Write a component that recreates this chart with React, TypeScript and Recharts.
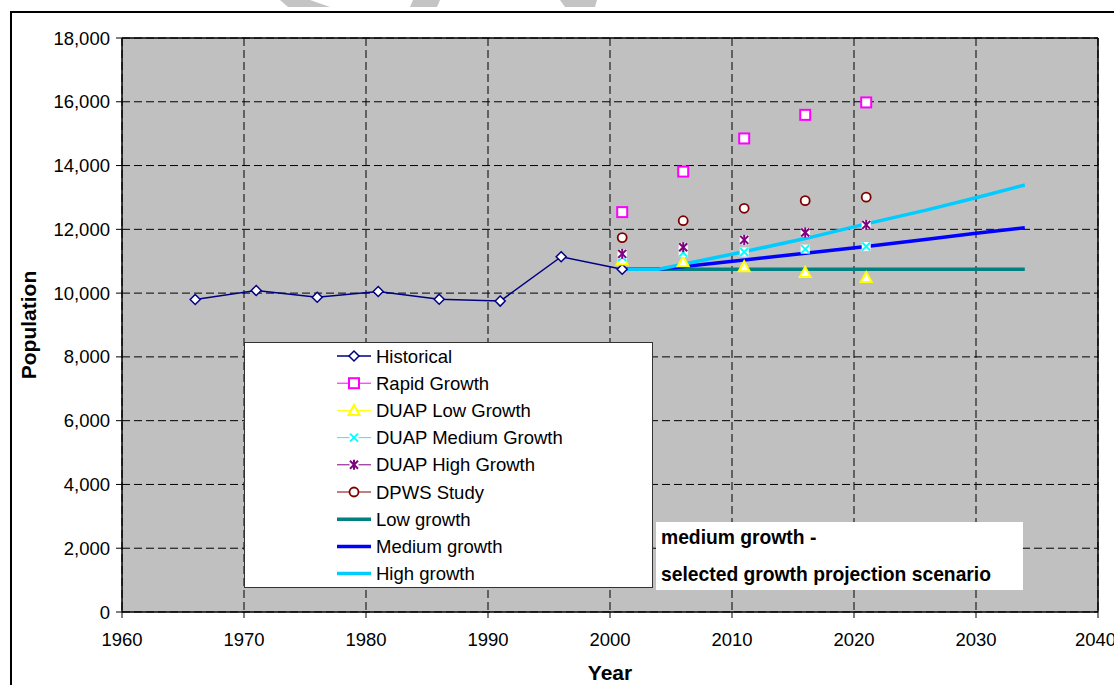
import React from 'react';
import { ComposedChart, Line, XAxis, YAxis, CartesianGrid, ReferenceLine, Legend } from 'recharts';

// ---- data ----
const historicalYears = [1966, 1971, 1976, 1981, 1986, 1991, 1996, 2001];
const historicalValues = [9800, 10080, 9870, 10050, 9810, 9750, 11140, 10750];

const studyYears = [2001, 2006, 2011, 2016, 2021];
const rapidGrowth = [12540, 13810, 14850, 15590, 15980];
const duapLow = [11040, 10980, 10830, 10650, 10490];
const duapMedium = [11130, 11270, 11290, 11380, 11460];
const duapHigh = [11230, 11440, 11670, 11900, 12140];
const dpwsStudy = [11740, 12270, 12660, 12900, 13010];

const lowYears = [2001, 2034];
const lowGrowth = [10750, 10750];
const projYears = [2001, 2004, 2011, 2016, 2021, 2026, 2030, 2034];
const mediumGrowth = [10750, 10750, 11040, 11250, 11460, 11690, 11880, 12050];
const highGrowth = [10750, 10750, 11300, 11710, 12170, 12610, 12990, 13390];

const xTicks = [1960, 1970, 1980, 1990, 2000, 2010, 2020, 2030, 2040];
const yTicks = [0, 2000, 4000, 6000, 8000, 10000, 12000, 14000, 16000, 18000];

const legendLabels = [
  'Historical',
  'Rapid Growth',
  'DUAP Low Growth',
  'DUAP Medium Growth',
  'DUAP High Growth',
  'DPWS Study',
  'Low growth',
  'Medium growth',
  'High growth',
];
const noteLines = ['medium growth -', 'selected growth projection scenario'];

const toData = (xs: number[], ys: number[]) => xs.map((year, i) => ({ year, value: ys[i] }));

const FONT = '"Liberation Sans", Arial, sans-serif';

const C = {
  hist: '#000080',
  rapid: '#FF00FF',
  low: '#FFFF00',
  med: '#00FFFF',
  high: '#800080',
  dpws: '#800000',
  lowLine: '#008080',
  medLine: '#0000FF',
  highLine: '#00CCFF',
};

type MarkerType = 'diamond' | 'square' | 'triangle' | 'x' | 'star' | 'circle';

function marker(type: MarkerType, cx: number, cy: number, key?: string | number) {
  if (cx == null || cy == null || isNaN(cx) || isNaN(cy)) return <g key={key} />;
  switch (type) {
    case 'diamond':
      return (
        <polygon key={key} points={`${cx},${cy - 5} ${cx + 5},${cy} ${cx},${cy + 5} ${cx - 5},${cy}`}
          fill="#fff" stroke={C.hist} strokeWidth={1.5} />
      );
    case 'square':
      return <rect key={key} x={cx - 5} y={cy - 5} width={10} height={10} fill="#fff" stroke={C.rapid} strokeWidth={2} />;
    case 'triangle':
      return (
        <polygon key={key} points={`${cx},${cy - 5.5} ${cx + 5.5},${cy + 4.5} ${cx - 5.5},${cy + 4.5}`}
          fill="#fff" stroke={C.low} strokeWidth={2} />
      );
    case 'x':
      return (
        <g key={key}>
          <rect x={cx - 4.5} y={cy - 4.5} width={9} height={9} fill="#fff" />
          <line x1={cx - 4} y1={cy - 4} x2={cx + 4} y2={cy + 4} stroke={C.med} strokeWidth={2} />
          <line x1={cx - 4} y1={cy + 4} x2={cx + 4} y2={cy - 4} stroke={C.med} strokeWidth={2} />
        </g>
      );
    case 'star':
      return (
        <g key={key}>
          <rect x={cx - 4.5} y={cy - 4.5} width={9} height={9} fill="#fff" />
          <line x1={cx - 4} y1={cy - 4} x2={cx + 4} y2={cy + 4} stroke={C.high} strokeWidth={2} />
          <line x1={cx - 4} y1={cy + 4} x2={cx + 4} y2={cy - 4} stroke={C.high} strokeWidth={2} />
          <line x1={cx} y1={cy - 5} x2={cx} y2={cy + 5} stroke={C.high} strokeWidth={2} />
        </g>
      );
    case 'circle':
    default:
      return <circle key={key} cx={cx} cy={cy} r={4.5} fill="#fff" stroke={C.dpws} strokeWidth={1.8} />;
  }
}

const dotFn = (type: MarkerType) => (p: any) => marker(type, p.cx, p.cy, `${type}-${p.index}`);

const legendSpec: { color: string; width: number; m?: MarkerType }[] = [
  { color: C.hist, width: 1.5, m: 'diamond' },
  { color: C.rapid, width: 1, m: 'square' },
  { color: C.low, width: 1, m: 'triangle' },
  { color: C.med, width: 1, m: 'x' },
  { color: C.high, width: 1, m: 'star' },
  { color: C.dpws, width: 1, m: 'circle' },
  { color: C.lowLine, width: 3.5 },
  { color: C.medLine, width: 3.5 },
  { color: C.highLine, width: 3.5 },
];

const LegendBox = () => (
  <div style={{ width: 409, height: 246, background: '#fff', border: '1px solid #333', boxSizing: 'border-box' }}>
    <svg width={407} height={244} style={{ display: 'block' }}>
      {legendLabels.map((lab, i) => {
        const y = 13 + i * 27.2;
        const s = legendSpec[i];
        return (
          <g key={lab}>
            <line x1={92} y1={y} x2={126} y2={y} stroke={s.color} strokeWidth={s.width} />
            {s.m ? marker(s.m, 109, y) : null}
            <text x={131} y={y} dy="0.36em" fontFamily={FONT} fontSize={18.5} fill="#000">{lab}</text>
          </g>
        );
      })}
    </svg>
  </div>
);

const YTitle = () => (
  <text x={36} y={325} transform="rotate(-90 36 325)" textAnchor="middle" fontFamily={FONT}
    fontWeight="bold" fontSize={21} fill="#000">Population</text>
);
const XTitle = () => (
  <text x={610} y={680} textAnchor="middle" fontFamily={FONT} fontWeight="bold" fontSize={21} fill="#000">Year</text>
);

const fmt = (v: number) => v.toLocaleString('en-US');

export default function App() {
  return (
    <div style={{ position: 'absolute', left: 0, top: 0, width: 1114, height: 685, overflow: 'hidden', background: '#fff', fontFamily: FONT }}>
      <svg width={1114} height={12} style={{ position: 'absolute', left: 0, top: 0 }}>
        <polygon points="280,0 310,0 330,7 288,7" fill="#c4c4c4" />
        <polygon points="413,0 440,0 437,7 410,7" fill="#c4c4c4" />
        <polygon points="560,0 597,0 595,7 565,7" fill="#c4c4c4" />
      </svg>
      <div style={{ position: 'absolute', left: 10, top: 11, width: 1200, height: 800, border: '2px solid #000', boxSizing: 'border-box' }} />
      <div style={{ position: 'absolute', left: 0, top: 0 }}>
        <ComposedChart width={1114} height={685} margin={{ top: 38, right: 16, bottom: 0, left: 0 }}>
          <CartesianGrid stroke="#000" strokeDasharray="8 4" fill="#C0C0C0" fillOpacity={1}
            horizontalValues={yTicks} verticalValues={xTicks} />
          <XAxis dataKey="year" type="number" domain={[1960, 2040]} ticks={xTicks} allowDataOverflow
            height={73} tickSize={6} tickMargin={15} axisLine={{ stroke: '#000', strokeWidth: 1.5 }}
            tickLine={{ stroke: '#000' }} tick={{ fill: '#000', fontSize: 18.5, fontFamily: FONT }}
            label={<XTitle />} />
          <YAxis type="number" domain={[0, 18000]} ticks={yTicks} width={122} tickSize={6} tickMargin={6}
            axisLine={{ stroke: '#000', strokeWidth: 1.5 }} tickLine={{ stroke: '#000' }}
            tick={{ fill: '#000', fontSize: 18.5, fontFamily: FONT }} tickFormatter={fmt}
            label={<YTitle />} />
          <ReferenceLine y={18000} stroke="#000" strokeWidth={1.5} />
          <ReferenceLine x={2040} stroke="#000" strokeWidth={1.5} />

          <Line data={toData(lowYears, lowGrowth)} dataKey="value" stroke={C.lowLine} strokeWidth={3.5}
            dot={false} activeDot={false} isAnimationActive={false} />
          <Line data={toData(projYears, mediumGrowth)} dataKey="value" stroke={C.medLine} strokeWidth={3.5}
            dot={false} activeDot={false} isAnimationActive={false} />
          <Line data={toData(projYears, highGrowth)} dataKey="value" stroke={C.highLine} strokeWidth={3.5}
            dot={false} activeDot={false} isAnimationActive={false} />

          <Line data={toData(historicalYears, historicalValues)} dataKey="value" stroke={C.hist} strokeWidth={1.5}
            dot={dotFn('diamond')} activeDot={false} isAnimationActive={false} />
          <Line data={toData(studyYears, rapidGrowth)} dataKey="value" stroke="none"
            dot={dotFn('square')} activeDot={false} isAnimationActive={false} />
          <Line data={toData(studyYears, duapLow)} dataKey="value" stroke="none"
            dot={dotFn('triangle')} activeDot={false} isAnimationActive={false} />
          <Line data={toData(studyYears, duapMedium)} dataKey="value" stroke="none"
            dot={dotFn('x')} activeDot={false} isAnimationActive={false} />
          <Line data={toData(studyYears, duapHigh)} dataKey="value" stroke="none"
            dot={dotFn('star')} activeDot={false} isAnimationActive={false} />
          <Line data={toData(studyYears, dpwsStudy)} dataKey="value" stroke="none"
            dot={dotFn('circle')} activeDot={false} isAnimationActive={false} />

          <Legend layout="vertical" align="center" verticalAlign="middle" content={<LegendBox />}
            wrapperStyle={{ position: 'absolute', left: 244, top: 342, width: 409, height: 246 }} />
        </ComposedChart>
      </div>
      <div style={{ position: 'absolute', left: 656, top: 522, width: 367, height: 68, background: '#fff',
        fontFamily: FONT, fontWeight: 'bold', fontSize: 19.3, color: '#000', lineHeight: '22px' }}>
        <div style={{ position: 'absolute', left: 5, top: 5, whiteSpace: 'nowrap' }}>{noteLines[0]}</div>
        <div style={{ position: 'absolute', left: 5, top: 42, whiteSpace: 'nowrap' }}>{noteLines[1]}</div>
      </div>
    </div>
  );
}
